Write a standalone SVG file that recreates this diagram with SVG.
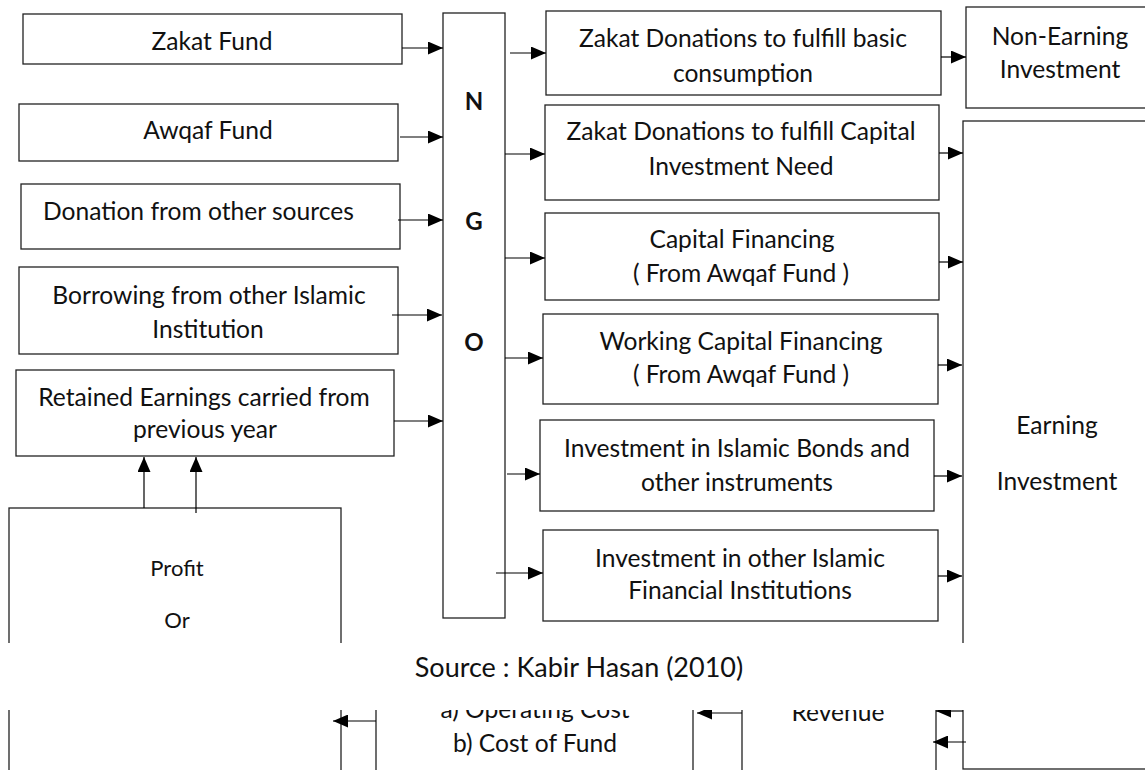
<svg xmlns="http://www.w3.org/2000/svg" width="1145" height="770" viewBox="0 0 1145 770">
<defs>
<marker id="ah" markerUnits="userSpaceOnUse" markerWidth="15" markerHeight="13" refX="15" refY="6.5" orient="auto">
<path d="M0,0 L15,6.5 L0,13 Z" fill="#000"/>
</marker>
<style>
rect.b{fill:#fff;stroke:#222;stroke-width:1.3}
text{font-family:Lato,"Open Sans","Liberation Sans",sans-serif;font-size:24.6px;fill:#111;text-anchor:middle}
text.s{font-size:22px}
text.n{font-weight:bold;font-size:24px}
text.l{text-anchor:start}
.c line{stroke:#000;stroke-width:1.2;marker-end:url(#ah)}
</style>
</defs>
<rect width="1145" height="770" fill="#fff"/>

<g id="zakat-fund"><rect class="b" x="23" y="14" width="379" height="50"/><text x="212" y="50">Zakat Fund</text></g>
<g id="awqaf-fund"><rect class="b" x="19" y="104" width="379" height="57"/><text x="208" y="139">Awqaf Fund</text></g>
<g id="donation"><rect class="b" x="21" y="184" width="379" height="65"/><text class="l" x="43" y="220">Donation from other sources</text></g>
<g id="borrowing"><rect class="b" x="19" y="267" width="379" height="87"/><text x="209" y="304">Borrowing from other Islamic</text><text x="208" y="338">Institution</text></g>
<g id="retained"><rect class="b" x="16" y="370" width="378" height="86"/><text x="204" y="406">Retained Earnings carried from</text><text x="205" y="438">previous year</text></g>
<g id="profit"><rect class="b" x="9" y="508" width="332" height="300"/><text class="s" x="177" y="576">Profit</text><text class="s" x="177" y="628">Or</text></g>
<g id="ngo"><rect class="b" x="443" y="13" width="62" height="605"/><text class="n" x="474" y="110">N</text><text class="n" x="474" y="230">G</text><text class="n" x="474" y="351">O</text></g>

<g id="zd-basic"><rect class="b" x="546" y="11" width="395" height="84"/><text x="743" y="47">Zakat Donations to fulfill basic</text><text x="743" y="82">consumption</text></g>
<g id="zd-capital"><rect class="b" x="545" y="105" width="394" height="95"/><text x="741" y="140">Zakat Donations to fulfill Capital</text><text x="741" y="175">Investment Need</text></g>
<g id="cap-fin"><rect class="b" x="545" y="213" width="394" height="87"/><text x="742" y="248">Capital Financing</text><text x="741" y="282">( From Awqaf Fund )</text></g>
<g id="wc-fin"><rect class="b" x="543" y="314" width="395" height="90"/><text x="741" y="350">Working Capital Financing</text><text x="741" y="383">( From Awqaf Fund )</text></g>
<g id="inv-bonds"><rect class="b" x="540" y="420" width="394" height="91"/><text x="737" y="457">Investment in Islamic Bonds and</text><text x="737" y="491">other instruments</text></g>
<g id="inv-ifi"><rect class="b" x="543" y="530" width="395" height="91"/><text x="740" y="567">Investment in other Islamic</text><text x="740" y="599">Financial Institutions</text></g>

<g id="non-earning"><rect class="b" x="966" y="7" width="185" height="101"/><text x="1060" y="45">Non-Earning</text><text x="1060" y="78">Investment</text></g>
<g id="earning"><rect class="b" x="963" y="121" width="190" height="648"/><text x="1057" y="434">Earning</text><text x="1057" y="490">Investment</text></g>

<g id="cost"><rect class="b" x="376" y="680" width="317" height="140"/><text x="535" y="718">a) Operating Cost</text><text x="535" y="752">b) Cost of Fund</text></g>
<g id="revenue"><rect class="b" x="742" y="680" width="194" height="140"/><text x="838" y="721">Revenue</text></g>

<g id="connectors" class="c">
<line x1="402" y1="48" x2="443" y2="48"/>
<line x1="400" y1="137" x2="443" y2="137"/>
<line x1="398" y1="220" x2="443" y2="220"/>
<line x1="392" y1="315" x2="442" y2="315"/>
<line x1="394" y1="421" x2="443" y2="421"/>
<line x1="144" y1="508" x2="144" y2="457"/>
<line x1="196" y1="513" x2="196" y2="457"/>
<line x1="510" y1="53" x2="546" y2="53"/>
<line x1="505" y1="154" x2="545" y2="154"/>
<line x1="505" y1="258" x2="545" y2="258"/>
<line x1="505" y1="358" x2="543" y2="358"/>
<line x1="507" y1="474" x2="540" y2="474"/>
<line x1="496" y1="573" x2="543" y2="573"/>
<line x1="941" y1="57" x2="966" y2="57"/>
<line x1="939" y1="153" x2="963" y2="153"/>
<line x1="939" y1="262" x2="963" y2="262"/>
<line x1="938" y1="365" x2="962" y2="365"/>
<line x1="934" y1="476" x2="962" y2="476"/>
<line x1="938" y1="576" x2="962" y2="576"/>
<line x1="376" y1="721" x2="333" y2="721"/>
<line x1="742" y1="713" x2="697" y2="713"/>
<line x1="963" y1="711" x2="936" y2="711"/>
<line x1="966" y1="742" x2="933" y2="742"/>
</g>

<rect x="0" y="643" width="1145" height="67" fill="#fff"/>
<text x="579" y="677" style="font-size:27px">Source : Kabir Hasan (2010)</text>
</svg>
